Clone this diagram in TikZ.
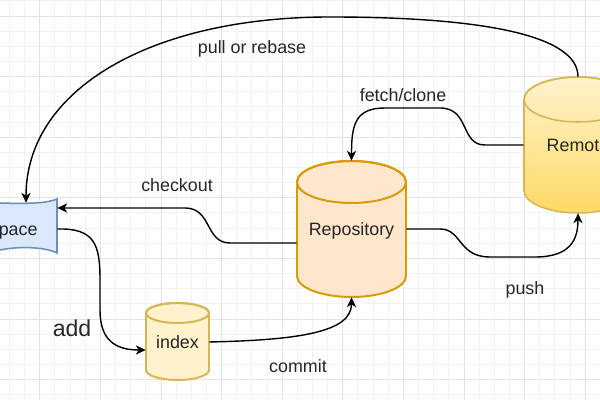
\documentclass[tikz,border=0pt]{standalone}
\usepackage{fontspec}
\setmainfont{Liberation Sans}
\usepackage{tikz}
\usetikzlibrary{arrows.meta}

\definecolor{gridMinor}{HTML}{F2F2F2}
\definecolor{gridMajor}{HTML}{E3E3E3}
\definecolor{wsFill}{HTML}{DAE8FC}
\definecolor{wsLine}{HTML}{6C8EBF}
\definecolor{repoFill}{HTML}{FFE6CC}
\definecolor{repoLine}{HTML}{D79B00}
\definecolor{idxFill}{HTML}{FFF2CC}
\definecolor{idxLine}{HTML}{D6B656}
\definecolor{remTop}{HTML}{FFF2CC}
\definecolor{remBot}{HTML}{FFD966}

\tikzset{
  lbl/.style={font=\fontsize{12.7}{15}\selectfont, text=black!85, inner sep=0pt},
  box/.style={font=\fontsize{12.7}{15}\selectfont, text=black!85, inner sep=0pt, text depth=0pt},
  flow/.style={line width=1pt, -{Stealth[length=7pt,width=6.5pt,inset=2pt]}},
}

\begin{document}
\begin{tikzpicture}[x=0.025cm,y=0.025cm]
        \useasboundingbox (0,0) rectangle (600,400);
        \clip (0,0) rectangle (600,400);
        \fill[white] (0,0) rectangle (600,400);
        \foreach \i in {0,...,39} \draw[gridMinor, line width=0.7pt] ({9.5+15.15*\i},0) -- ++(0,400);
        \foreach \j in {0,...,26} \draw[gridMinor, line width=0.7pt] (0,{399.15-15.15*\j}) -- ++(600,0);
        \foreach \i in {0,...,9} \draw[gridMajor, line width=0.7pt] ({39.8+60.6*\i},0) -- ++(0,400);
        \foreach \j in {0,...,6} \draw[gridMajor, line width=0.7pt] (0,{384-60.6*\j}) -- ++(600,0);

        \filldraw[fill=wsFill, draw=wsLine, line width=1.1pt] (57,201) .. controls (48,197) and (30,196) .. (0,197) -- (-75,197) -- (-75,143) -- (0,150) .. controls (20,154) and (45,153) .. (57,147) -- cycle;
        \filldraw[fill=repoFill, draw=repoLine, line width=1.4pt] (297,218) -- (297,124) arc[start angle=180, end angle=360, x radius=54.5, y radius=21] -- (406,218) arc[start angle=0, end angle=180, x radius=54.5, y radius=21] -- cycle;
        \draw[repoLine, line width=1.4pt] (351.5,218) ellipse[x radius=54.5, y radius=21];
        \draw[top color=remTop, bottom color=remBot, draw=idxLine, line width=1.1pt] (524,300.5) -- (524,209.5) arc[start angle=180, end angle=360, x radius=54, y radius=22.5] -- (632,300.5) arc[start angle=0, end angle=180, x radius=54, y radius=22.5] -- cycle;
        \draw[idxLine, line width=1.1pt] (578,300.5) ellipse[x radius=54, y radius=22.5];
        \filldraw[fill=idxFill, draw=idxLine, line width=1.4pt] (146,87) -- (146,30) arc[start angle=180, end angle=360, x radius=31.5, y radius=10] -- (209,87) arc[start angle=0, end angle=180, x radius=31.5, y radius=10] -- cycle;
        \draw[idxLine, line width=1.4pt] (177.5,87) ellipse[x radius=31.5, y radius=10];

        \node[box, minimum width=3.2cm, minimum height=1.35cm] (ws) at (-7,171) {Workspace};
        \node[box, minimum width=2.725cm, minimum height=3.4cm] (repo) at (351.5,171) {Repository};
        \node[box, minimum width=2.7cm, minimum height=3.4cm] (remote) at (578,255) {Remote};
        \node[box, minimum width=1.575cm, minimum height=1.925cm] (idx) at (177.5,58) {index};

        \node[lbl] (pullLbl) at (252,351) {pull or rebase};
        \node[lbl] (fetchLbl) at (403,305) {fetch/clone};
        \node[lbl] (checkoutLbl) at (177,215) {checkout};
        \node[lbl, font=\fontsize{16.4}{19}\selectfont] (addLbl) at (72,72) {add};
        \node[lbl] (commitLbl) at (298,34) {commit};
        \node[lbl] (pushLbl) at (525,110) {push};

        \draw[flow] (remote.north) .. controls +(0,42) and (480,383) .. (330,383) .. controls (150,383) and (26,310) .. ([xshift=0.825cm,yshift=-0.025cm]ws.north);
        \draw[flow] (remote.west) -- (485,255) .. controls (460,255) and (470,292) .. (440,292) -- (385,292) .. controls (355,292) and (351.5,275) .. (repo.north);
        \draw[flow] ([yshift=-0.35cm]repo.west) -- (230,157) .. controls (205,157) and (212,192) .. (185,192) -- ([yshift=0.525cm]ws.east);
        \draw[flow] (ws.east) .. controls (95,172) and (100,155) .. (100,120) -- (100,90) .. controls (100,60) and (115,50) .. ([yshift=-0.2cm]idx.west);
        \draw[flow] (idx.east) .. controls (300,60) and (351.5,68) .. (repo.south);
        \draw[flow] (repo.east) -- (440,171) .. controls (462,171) and (458,143) .. (490,143) -- (535,143) .. controls (570,143) and (578,160) .. (remote.south);
    \end{tikzpicture}
\end{document}
